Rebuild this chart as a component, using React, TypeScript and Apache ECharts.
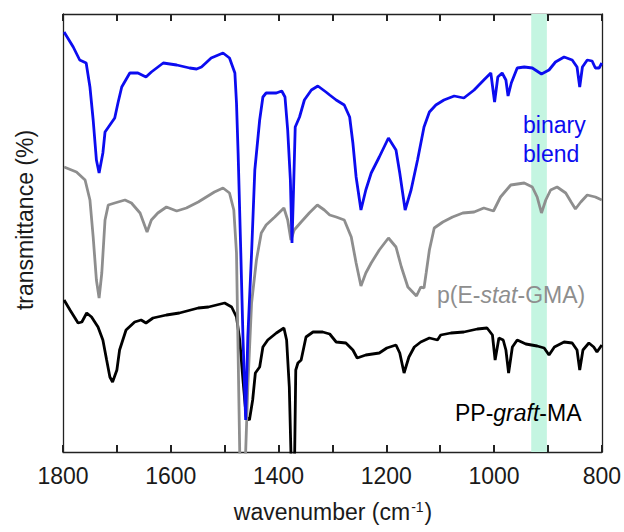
import React, { useEffect, useRef } from "react";
import * as echarts from "echarts";

// wavenumber (cm^-1), transmittance (arbitrary offset units)
const binaryBlend: [number, number][] = [
  [1798, 420], [1781, 405], [1769, 392], [1757, 389], [1750, 365], [1744, 332], [1738, 292], [1733, 279],
  [1726, 299], [1722, 320], [1713, 327], [1704, 334], [1698, 349], [1691, 365], [1676, 379], [1661, 379],
  [1646, 375], [1636, 380], [1614, 389], [1589, 387], [1565, 384], [1552, 383], [1543, 385], [1525, 394],
  [1503, 399], [1491, 394], [1481, 379], [1478, 349], [1475, 299], [1470, 199], [1466, 115], [1461, 32],
  [1457, 115], [1450, 199], [1444, 282], [1435, 332], [1429, 355], [1423, 359], [1404, 359], [1394, 361],
  [1388, 355], [1383, 322], [1378, 272], [1375, 209], [1372, 265], [1369, 325], [1361, 335], [1352, 352],
  [1339, 362], [1327, 366], [1312, 360], [1305, 357], [1293, 352], [1278, 347], [1268, 335], [1262, 309],
  [1256, 275], [1247, 242], [1238, 262], [1228, 279], [1213, 295], [1196, 314], [1182, 302], [1175, 279],
  [1165, 242], [1154, 262], [1142, 292], [1130, 325], [1120, 340], [1108, 347], [1093, 352], [1074, 356],
  [1056, 354], [1037, 362], [1019, 372], [1006, 379], [999, 350], [993, 375], [985, 379], [978, 372],
  [974, 356], [968, 369], [957, 384], [944, 385], [929, 384], [912, 378], [898, 382], [886, 390],
  [870, 395], [855, 392], [846, 385], [841, 365], [836, 385], [827, 392], [818, 391], [812, 384],
  [805, 384], [800, 389],
];

const pEstatGMA: [number, number][] = [
  [1798, 285], [1775, 280], [1759, 272], [1750, 252], [1744, 215], [1738, 172], [1733, 154], [1728, 179],
  [1722, 232], [1716, 247], [1704, 249], [1685, 252], [1673, 249], [1657, 239], [1644, 220], [1636, 232],
  [1624, 239], [1608, 245], [1589, 241], [1571, 244], [1549, 250], [1537, 254], [1519, 260], [1503, 264],
  [1491, 259], [1483, 242], [1478, 199], [1475, 99], [1472, 0], [1467, -50], [1461, 0], [1457, 65],
  [1450, 149], [1441, 192], [1432, 219], [1423, 227], [1407, 235], [1390, 244], [1383, 232], [1377, 212],
  [1371, 222], [1358, 230], [1343, 239], [1328, 247], [1315, 242], [1305, 237], [1293, 235], [1278, 232],
  [1265, 215], [1256, 189], [1247, 166], [1238, 179], [1228, 189], [1213, 202], [1196, 214], [1182, 205],
  [1172, 185], [1160, 165], [1144, 156], [1136, 165], [1130, 164], [1126, 179], [1120, 202], [1111, 224],
  [1095, 230], [1077, 235], [1058, 239], [1037, 240], [1019, 244], [1001, 241], [988, 255], [969, 267],
  [944, 269], [929, 265], [920, 255], [912, 239], [904, 252], [895, 262], [883, 265], [867, 259],
  [857, 250], [849, 243], [839, 250], [827, 257], [812, 255], [800, 252],
];

const ppGraftMA: [number, number][] = [
  [1798, 152], [1787, 142], [1772, 129], [1765, 130], [1756, 139], [1747, 135], [1735, 125], [1726, 112],
  [1719, 92], [1713, 75], [1708, 70], [1700, 82], [1695, 102], [1683, 122], [1667, 130], [1655, 132],
  [1646, 129], [1633, 134], [1608, 137], [1584, 139], [1549, 144], [1530, 145], [1500, 149], [1487, 145],
  [1478, 135], [1472, 112], [1466, 72], [1460, 35], [1454, 32], [1448, 52], [1443, 79], [1435, 85],
  [1429, 105], [1420, 112], [1404, 119], [1390, 124], [1385, 112], [1380, 65], [1377, 0], [1374, -40],
  [1370, 0], [1368, 82], [1364, 89], [1358, 92], [1349, 115], [1336, 120], [1318, 120], [1305, 118],
  [1293, 110], [1275, 109], [1262, 102], [1254, 94], [1238, 97], [1213, 99], [1199, 104], [1182, 107],
  [1175, 99], [1167, 79], [1158, 95], [1148, 105], [1136, 110], [1120, 114], [1105, 112], [1099, 117],
  [1080, 119], [1056, 120], [1031, 123], [1013, 124], [1003, 117], [998, 92], [991, 114], [983, 112],
  [978, 102], [973, 79], [966, 105], [957, 112], [941, 108], [920, 106], [907, 104], [898, 97],
  [888, 105], [870, 110], [855, 109], [846, 102], [841, 82], [835, 102], [824, 109], [815, 105],
  [809, 100], [800, 107],
];

const highlightBand: [number, number] = [931, 902];
const xRange = { min: 800, max: 1800, tickStep: 100, labelStep: 200 };
const yRange = { min: 0, max: 438 };

const FONT = "'Liberation Sans', Arial, sans-serif";
const BLUE = "#0c0cf0";
const GRAY = "#8e8e8e";
const BLACK = "#000000";
const AXIS = "#222222";

function makeX(position: "top" | "bottom") {
  return {
    type: "value",
    position,
    min: xRange.min,
    max: xRange.max,
    interval: xRange.tickStep,
    inverse: true,
    splitLine: { show: false },
    axisLine: { show: true, onZero: false, lineStyle: { color: AXIS, width: 1.3 } },
    axisTick: { show: true, inside: true, length: 7, lineStyle: { color: AXIS, width: 2 } },
    axisLabel:
      position === "bottom"
        ? {
            show: true,
            fontSize: 23,
            color: "#1a1a1a",
            fontFamily: FONT,
            margin: 12,
            formatter: (v: number) => (v % xRange.labelStep === 0 ? String(v) : ""),
          }
        : { show: false },
  };
}

function makeY(position: "left" | "right") {
  return {
    type: "value",
    position,
    min: yRange.min,
    max: yRange.max,
    splitLine: { show: false },
    axisLine: { show: true, onZero: false, lineStyle: { color: AXIS, width: 1.3 } },
    axisTick: { show: false },
    axisLabel: { show: false },
  };
}

const textGraphics: any[] = [
  {
    type: "text",
    x: 333,
    y: 512,
    style: {
      text: "{a|wavenumber (cm}{s|-1}{a|)}",
      align: "center",
      verticalAlign: "middle",
      fill: "#1a1a1a",
      rich: {
        a: { fontSize: 23, fontFamily: FONT, fill: "#1a1a1a" },
        s: { fontSize: 14, fontFamily: FONT, fill: "#1a1a1a", verticalAlign: "top", padding: [0, 1, 10, 1] },
      },
    },
  },
  {
    type: "text",
    x: 25,
    y: 220,
    rotation: Math.PI / 2,
    style: {
      text: "transmittance (%)",
      align: "center",
      verticalAlign: "middle",
      fontSize: 23,
      fontFamily: FONT,
      fill: "#1a1a1a",
    },
  },
  {
    type: "text",
    x: 523,
    y: 125,
    z: 10,
    style: { text: "binary", fontSize: 23, fontFamily: FONT, fill: BLUE, align: "left", verticalAlign: "middle" },
  },
  {
    type: "text",
    x: 523,
    y: 154,
    z: 10,
    style: { text: "blend", fontSize: 23, fontFamily: FONT, fill: BLUE, align: "left", verticalAlign: "middle" },
  },
  {
    type: "text",
    x: 437,
    y: 295,
    z: 10,
    style: {
      text: "{n|p(E-}{i|stat}{n|-GMA)}",
      align: "left",
      verticalAlign: "middle",
      rich: {
        n: { fontSize: 23, fontFamily: FONT, fill: GRAY },
        i: { fontSize: 23, fontFamily: FONT, fill: GRAY, fontStyle: "italic" },
      },
    },
  },
  {
    type: "text",
    x: 455,
    y: 413,
    z: 10,
    style: {
      text: "{n|PP-}{i|graft}{n|-MA}",
      align: "left",
      verticalAlign: "middle",
      rich: {
        n: { fontSize: 23, fontFamily: FONT, fill: BLACK },
        i: { fontSize: 23, fontFamily: FONT, fill: BLACK, fontStyle: "italic" },
      },
    },
  },
];

export default function App() {
  const ref = useRef<HTMLDivElement>(null);
  useEffect(() => {
    if (!ref.current) return;
    const chart = echarts.init(ref.current, undefined, { renderer: "svg" });
    chart.setOption({
      animation: false,
      backgroundColor: "#ffffff",
      grid: { left: 63, right: 21, top: 14, bottom: 80 },
      xAxis: [makeX("bottom"), makeX("top")],
      yAxis: [makeY("left"), makeY("right")],
      series: [
        {
          type: "line",
          name: "band",
          data: [],
          silent: true,
          markArea: {
            silent: true,
            itemStyle: { color: "#c4f5e1" },
            data: [[{ xAxis: highlightBand[0] }, { xAxis: highlightBand[1] }]],
          },
          z: 1,
        },
        {
          type: "line",
          name: "PP-graft-MA",
          data: ppGraftMA,
          showSymbol: false,
          symbol: "none",
          clip: true,
          lineStyle: { color: BLACK, width: 2.8 },
          z: 3,
        },
        {
          type: "line",
          name: "p(E-stat-GMA)",
          data: pEstatGMA,
          showSymbol: false,
          symbol: "none",
          clip: true,
          lineStyle: { color: GRAY, width: 2.8 },
          z: 4,
        },
        {
          type: "line",
          name: "binary blend",
          data: binaryBlend,
          showSymbol: false,
          symbol: "none",
          clip: true,
          lineStyle: { color: BLUE, width: 2.8 },
          z: 5,
        },
      ],
      graphic: textGraphics,
    });
    return () => chart.dispose();
  }, []);
  return (
    <div
      ref={ref}
      style={{ position: "fixed", left: 0, top: 0, width: 624, height: 532, background: "#fff" }}
    />
  );
}
